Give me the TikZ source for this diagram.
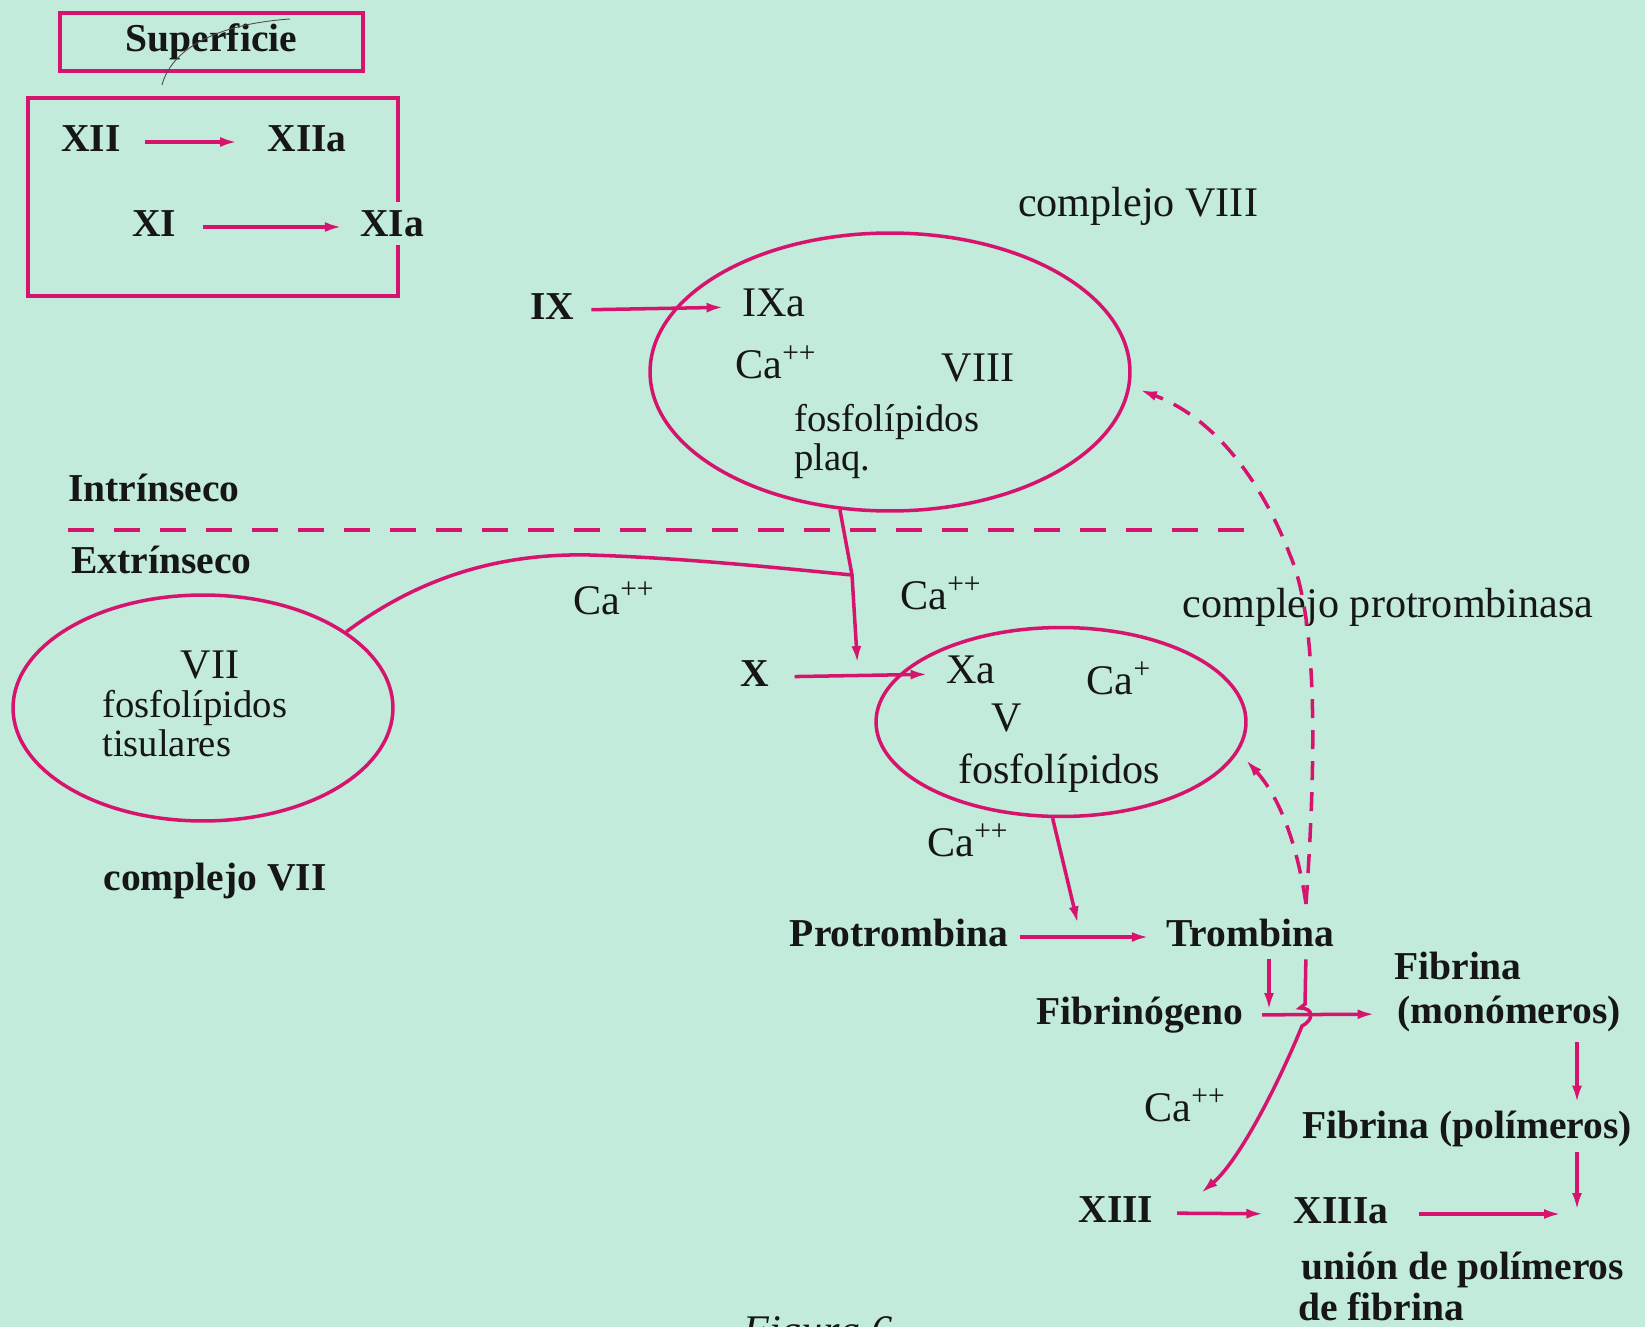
\documentclass[tikz,border=0pt]{standalone}
\usepackage{fontspec}
\setmainfont{Liberation Serif}
\usetikzlibrary{arrows.meta,shapes.geometric,calc}
\definecolor{bg}{RGB}{194,235,219}
\definecolor{mag}{RGB}{214,20,110}
\definecolor{ink}{RGB}{22,22,22}
\begin{document}
\begin{tikzpicture}[x=0.02cm,y=-0.02cm,
  magline/.style={draw=mag, line width=2pt},
  arr/.style={magline, -{Latex[length=0.34cm,width=0.2cm]}},
  dsh/.style={magline, dash pattern=on 0.38cm off 0.24cm},
  oval/.style={ellipse, draw=mag, line width=2pt, inner sep=0pt},
  lbl/.style={inner sep=0pt, text height=14pt, text depth=3pt, text=ink, font=\fontsize{24}{28}\selectfont},
  slbl/.style={lbl, font=\fontsize{22}{26}\selectfont},
  blbl/.style={lbl, font=\fontsize{22.5}{27}\selectfont\bfseries}]
\useasboundingbox (0,0) rectangle (1645,1327);
\clip (0,0) rectangle (1645,1327);
\fill[bg] (0,0) rectangle (1645,1327);

% --- Superficie box
\node[blbl, draw=mag, line width=2pt, minimum width=6.06cm, minimum height=1.16cm] (sup) at (211.5,42) {Superficie};
\draw[black!70, line width=0.5pt] (162,85) .. controls (170,55) and (205,25) .. (290,19);

% --- surface activation box
\draw[magline] (398,202) -- (398,98) -- (28,98) -- (28,296) -- (398,296) -- (398,245);
\node[blbl] (xii) at (91,142) {XII};
\node[blbl] (xiia) at (307,142) {XIIa};
\node[blbl] (xi) at (154,227) {XI};
\node[blbl] (xia) at (392,227) {XIa};
\draw[arr, shorten <=0.48cm, shorten >=0.6cm] (xii.east) -- (xiia.west);
\draw[arr, shorten <=0.54cm, shorten >=0.36cm] (xi.east) -- (xia.west);

% --- complejo VIII
\node[lbl] (cviii) at (1138,207) {complejo VIII};
\node[oval, minimum width=9.6cm, minimum height=5.56cm] (ov8) at (890,372) {};
\node[blbl] (ix) at (552,310) {IX};
\node[lbl] (ixa) at (774,307) {IXa};
\draw[arr, shorten <=0.34cm, shorten >=0.37cm] (ix.east) -- (ixa.west);
\node[lbl] (ca1) at (776,369) {Ca\textsuperscript{++}};
\node[lbl] (viii) at (978,372) {VIII};
\node[slbl, anchor=west] (fos1) at (794,422) {fosfolípidos};
\node[slbl, anchor=west] (plaq) at (794,461) {plaq.};

% --- divider
\node[blbl, anchor=west] (intr) at (68,492) {Intrínseco};
\node[blbl, anchor=west] (extr) at (71,564) {Extrínseco};
\draw[magline, dash pattern=on 0.52cm off 0.4cm] (68,530) -- (1259,530);

% --- complejo VII
\node[oval, minimum width=7.6cm, minimum height=4.52cm] (ov7) at (203,708) {};
\node[lbl] (vii) at (210,669) {VII};
\node[slbl, anchor=west] (fos2) at (102,708) {fosfolípidos};
\node[slbl, anchor=west] (tis) at (102,747) {tisulares};
\node[blbl] (cvii) at (215,881) {complejo VII};

\node[lbl] (ca2) at (614,605) {Ca\textsuperscript{++}};
\node[lbl] (ca3) at (941,600) {Ca\textsuperscript{++}};
\node[lbl] (cprot) at (1388,608) {complejo protrombinasa};

% --- complejo protrombinasa
\node[oval, minimum width=7.4cm, minimum height=3.78cm] (ovx) at (1061,722) {};
\node[blbl] (x) at (755,677) {X};
\node[lbl] (xa) at (971,674) {Xa};
\node[lbl] (ca4) at (1119,685) {Ca\textsuperscript{+}};
\node[lbl] (v) at (1007,722) {V};
\node[lbl] (fos3) at (1059,774) {fosfolípidos};
\node[lbl] (ca5) at (968,847) {Ca\textsuperscript{++}};
\draw[arr, shorten <=0.5cm, shorten >=0.37cm] (x.east) -- (xa.west);

\coordinate (kj) at (852,575);
\coordinate (xj) at (858,673);
\draw[arr, shorten >=0.2cm] (ov8.250) -- (kj) -- (xj);
\draw[magline] (ov7.28) .. controls (420,577) and (500,553) .. (590,555) .. controls (680,558) and (760,566) .. (kj);

% --- thrombin
\node[blbl] (prot) at (899,937) {Protrombina};
\node[blbl] (trom) at (1250,937) {Trombina};
\draw[arr, shorten <=0.24cm, shorten >=0.34cm] (prot.east) -- (trom.west);
\coordinate (pj) at (1081,937);
\draw[arr, shorten >=0.28cm] (ovx.265) -- (pj);

% --- dashed feedback
\coordinate (dj) at (1306,904);
\draw[dsh, -{Latex[length=0.34cm,width=0.2cm]}] (dj) .. controls (1316,760) and (1318,620) .. (1290,555) .. controls (1265,490) and (1220,420) .. (1140,390);
\draw[dsh, -{Latex[length=0.34cm,width=0.2cm]}] (dj) .. controls (1298,850) and (1282,800) .. (1246,760);

% --- fibrin
\node[blbl] (fgen) at (1140,1015) {Fibrinógeno};
\node[blbl] (fib1) at (1458,970) {Fibrina};
\node[blbl] (mono) at (1509,1014) {(monómeros)};
\node[blbl] (poli) at (1467,1129) {Fibrina (polímeros)};
\node[lbl] (ca6) at (1185,1112) {Ca\textsuperscript{++}};
\node[blbl] (xiii) at (1116,1213) {XIII};
\node[blbl] (xiiia) at (1341,1214) {XIIIa};
\node[blbl] (union) at (1463,1270) {unión de polímeros};
\node[blbl, anchor=west] (defib) at (1298,1311) {de fibrina};
\node[anchor=base west, inner sep=0pt, text=ink, font=\fontsize{24}{28}\selectfont\itshape] (fig) at (743,1344) {Figura 6};

\coordinate (fj) at (1269,1015);
\coordinate (hop) at (1306,1015);
\coordinate (x13) at (1201,1193);
\coordinate (junc) at (1577,1210);
\draw[arr, shorten <=0.37cm, shorten >=0.45cm] (fgen.east) -- (mono.west);
\draw[arr, shorten <=0.14cm, shorten >=0.1cm] (trom.south -| fj) -- (fj);
\draw[arr, shorten <=0.14cm] (trom.south -| hop) -- (1305,1004) -- (1300,1008) .. controls (1314,1008) and (1314,1020) .. (1302,1026) .. controls (1280,1080) and (1240,1160) .. (x13);
\draw[arr, shorten <=0.26cm, shorten >=0.22cm] (mono.south -| junc) -- (poli.north -| junc);
\draw[arr, shorten <=0.16cm] (poli.south -| junc) -- (junc);
\draw[arr, shorten <=0.6cm, shorten >=0.32cm] (xiiia.east) -- (xiiia.east -| junc);
\draw[arr, shorten <=0.47cm, shorten >=0.6cm] (xiii.east) -- (xiiia.west);
\end{tikzpicture}
\end{document}
